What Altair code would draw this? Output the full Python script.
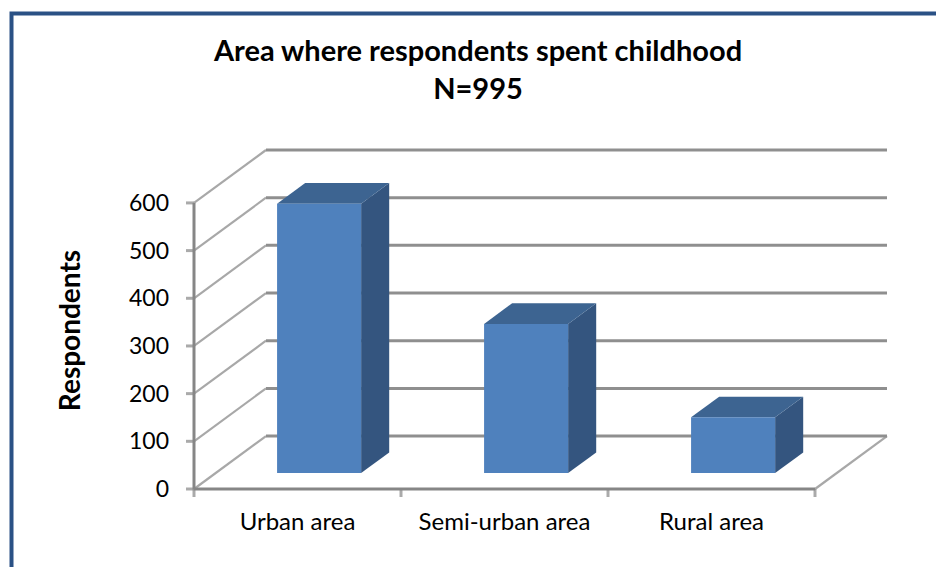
import altair as alt
import pandas as pd

# ---- data -------------------------------------------------------------
categories = ["Urban area", "Semi-urban area", "Rural area"]
respondents = [565, 313, 117]
y_ticks = [0, 100, 200, 300, 400, 500, 600]
title_lines = ["Area where respondents spent childhood", "N=995"]
y_title = "Respondents"

# ---- oblique 3-D projection (all in data units) -----------------------
Y_TOP = y_ticks[-1]
N = len(categories)
KX = 72 / 207          # depth shift along x, in category widths
KY = 111               # depth shift along y, in respondents
F0, F1 = 0.30, 0.69    # depth of the bar front / back faces (0 = front, 1 = back wall)
HW = 0.203             # half bar width, in category widths

W, H = 693, 339
FONT = "Lato"
FRONT, TOP, SIDE = "#4F81BD", "#3D6491", "#34557F"
WALL = "#8F8F8F"
DIAG = "#A8A8A8"
EDGE = "#868686"

x_scale = alt.Scale(domain=[0, N + KX], nice=False, zero=False)
y_scale = alt.Scale(domain=[0, Y_TOP + KY], nice=False, zero=False)

# wall / floor segments
diag_rows = [dict(x=0, y=v, x2=KX, y2=v + KY) for v in y_ticks]
diag_rows.append(dict(x=N, y=0, x2=N + KX, y2=KY))
back_rows = [dict(x=KX, y=v + KY, x2=N + KX, y2=v + KY) for v in y_ticks]
front_rows = [dict(x=0, y=0, x2=0, y2=Y_TOP), dict(x=0, y=0, x2=N, y2=0)]

# bar faces
front_df, side_rows, top_rows = [], [], []
for i, (cat, v) in enumerate(zip(categories, respondents)):
    xl, xr = i + 0.5 - HW, i + 0.5 + HW
    front_df.append(dict(cat=cat, x=xl + F0 * KX, x2=xr + F0 * KX, y=F0 * KY, y2=v + F0 * KY))
    for f in (F0, F1):
        side_rows.append(dict(cat=cat, x=xr + f * KX, y=f * KY, y2=v + f * KY))
        top_rows.append(dict(cat=cat, y=v + f * KY, x=xl + f * KX, x2=xr + f * KX))

y_tick_df = pd.DataFrame({"x": [0] * len(y_ticks), "y": y_ticks, "label": [str(v) for v in y_ticks]})
x_tick_df = pd.DataFrame({"x": list(range(N + 1)), "y": [0] * (N + 1)})
cat_df = pd.DataFrame({"x": [i + 0.5 for i in range(N)], "y": [0] * N, "label": categories})


def X(field="x"):
    return alt.X(f"{field}:Q", scale=x_scale, axis=None)


def Y(field="y"):
    return alt.Y(f"{field}:Q", scale=y_scale, axis=None)


def seg_layer(rows, color, width):
    return alt.Chart(pd.DataFrame(rows)).mark_rule(
        color=color, strokeWidth=width, strokeCap="butt"
    ).encode(x=X(), y=Y(), x2="x2:Q", y2="y2:Q")


one = pd.DataFrame({"a": [0]})

# outer chart border
frame = alt.Chart(one).mark_rect(
    fillOpacity=0, stroke="#2A5185", strokeWidth=4
).encode(
    x=alt.value(-182.5), x2=alt.value(780),
    y=alt.value(-136.5), y2=alt.value(460),
)

diag = seg_layer(diag_rows, DIAG, 2.2)
back = seg_layer(back_rows, WALL, 3)
front = seg_layer(front_rows, EDGE, 3)

# axis ticks and labels
y_tick_marks = alt.Chart(y_tick_df).mark_tick(
    orient="horizontal", size=8, thickness=3, color=EDGE, xOffset=-4
).encode(x=X(), y=Y())
x_tick_marks = alt.Chart(x_tick_df).mark_tick(
    orient="vertical", size=8, thickness=3, color=EDGE, yOffset=4
).encode(x=X(), y=Y())
y_labels = alt.Chart(y_tick_df).mark_text(
    font=FONT, fontSize=23, color="black", align="right", baseline="middle", dx=-25, dy=1
).encode(x=X(), y=Y(), text="label:N")
x_labels = alt.Chart(cat_df).mark_text(
    font=FONT, fontSize=24, color="black", align="center", baseline="alphabetic", dy=41
).encode(x=X(), y=Y(), text="label:N")

# bars: side, top and front faces
bar_front = alt.Chart(pd.DataFrame(front_df)).mark_rect(color=FRONT).encode(
    x=X(), x2="x2:Q", y=Y(), y2="y2:Q",
)
bar_side = alt.Chart(pd.DataFrame(side_rows)).mark_area(color=SIDE).encode(
    x=X(),
    y=alt.Y("y:Q", scale=y_scale, axis=None, stack=None),
    y2="y2:Q",
    detail="cat:N",
)
bar_top = alt.Chart(pd.DataFrame(top_rows)).mark_area(color=TOP, orient="horizontal").encode(
    y=Y(),
    x=alt.X("x:Q", scale=x_scale, axis=None, stack=None),
    x2="x2:Q",
    detail="cat:N",
)

# titles
title_1 = alt.Chart(one).mark_text(
    text=title_lines[0], font=FONT, fontSize=29, fontWeight="bold", color="black",
    align="center", baseline="alphabetic",
).encode(x=alt.value(284), y=alt.value(-89))
title_2 = alt.Chart(one).mark_text(
    text=title_lines[1], font=FONT, fontSize=29, fontWeight="bold", color="black",
    align="center", baseline="alphabetic",
).encode(x=alt.value(284), y=alt.value(-51))
y_title_mark = alt.Chart(one).mark_text(
    text=y_title, font=FONT, fontSize=28, fontWeight="bold", color="black",
    align="center", baseline="alphabetic", angle=270,
).encode(x=alt.value(-114), y=alt.value(180.5))

chart = alt.layer(
    frame, diag, back, front, y_tick_marks, x_tick_marks,
    bar_side, bar_top, bar_front,
    y_labels, x_labels, title_1, title_2, y_title_mark,
).properties(
    width=W,
    height=H,
    autosize=alt.AutoSizeParams(type="none"),
    padding={"left": 194, "top": 150, "right": 936 - 194 - W, "bottom": 567 - 150 - H},
    background="white",
).configure_view(stroke=None)

chart.save("out.html", embed_options={"renderer": "svg", "actions": False})
